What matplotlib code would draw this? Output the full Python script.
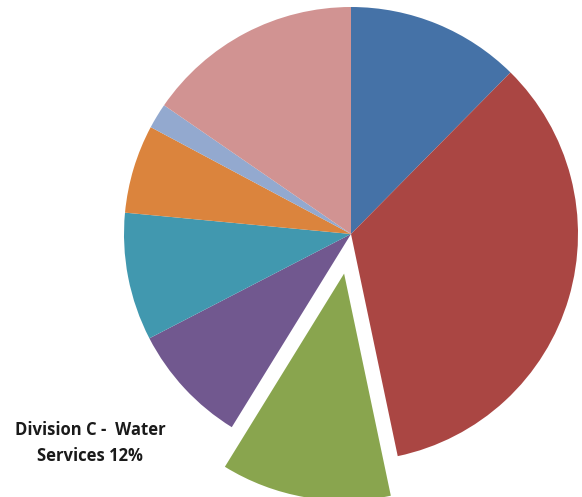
import matplotlib
matplotlib.use("Agg")
import matplotlib.pyplot as plt

divisions = ["Division A", "Division B", "Division C - Water Services", "Division D",
             "Division E", "Division F", "Division G", "Division H"]
shares = [12.4, 34.3, 12.1, 8.6, 9.1, 6.3, 1.8, 15.4]
colors = ["#4572A7", "#AA4643", "#89A54E", "#71588F", "#4198AF", "#DB843D", "#93A9CF", "#D19392"]
explode_frac = [0, 0, 0.177, 0, 0, 0, 0, 0]

W, H = 582, 497
R = 227
fig = plt.figure(figsize=(W / 100, H / 100), dpi=100)
ax = fig.add_axes([0, 0, 1, 1])
ax.pie(shares, colors=colors, explode=[e * R for e in explode_frac], startangle=90,
       counterclock=False, center=(351, H - 234), radius=R, wedgeprops=dict(linewidth=0))
ax.set_xlim(0, W)
ax.set_ylim(0, H)
ax.set_aspect("equal")
ax.axis("off")

ax.text(90, H - 430, "Division C -  Water", ha="center", va="center",
        fontsize=12, fontweight="bold", family="Open Sans", color="#1a1a1a")
ax.text(90, H - 456, "Services 12%", ha="center", va="center",
        fontsize=12, fontweight="bold", family="Open Sans", color="#1a1a1a")

fig.savefig("out.png", dpi=100)
